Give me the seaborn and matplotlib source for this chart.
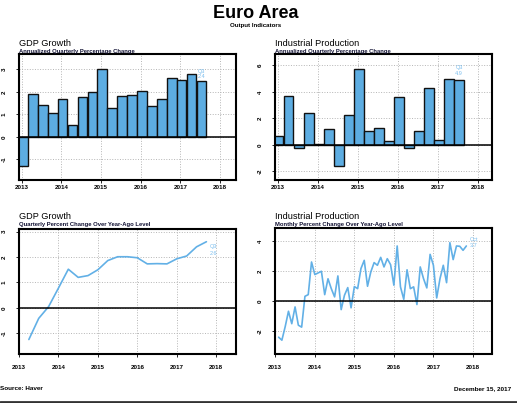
import numpy as np
import pandas as pd
import matplotlib
matplotlib.use('Agg')
import matplotlib.pyplot as plt
import seaborn as sns

# data
quarters = pd.period_range('2013Q1', '2017Q3', freq='Q')
months = pd.period_range('2013-01', '2017-10', freq='M')

gdp_ann = [-1.3, 1.9, 1.42, 1.06, 1.7, 0.52, 1.75, 2.0, 3.02, 1.29, 1.8, 1.86, 2.02,
           1.38, 1.7, 2.63, 2.51, 2.78, 2.46]
ip_ann = [0.68, 3.66, -0.25, 2.42, 0.03, 1.18, -1.56, 2.24, 5.75, 1.03, 1.31, 0.28,
          3.63, -0.23, 1.03, 4.26, 0.35, 4.99, 4.92]
gdp_yoy = [-1.24, -0.41, 0.05, 0.78, 1.52, 1.2, 1.27, 1.5, 1.86, 2.01, 2.01, 1.97,
           1.73, 1.74, 1.73, 1.93, 2.04, 2.4, 2.6]
ip_yoy = [-2.4, -2.6, -1.7, -0.67, -1.5, -0.38, -1.6, -1.73, 0.33, 0.44, 2.62, 1.78,
          1.89, 2.0, 0.44, 1.5, 0.84, 0.29, 1.69, -0.56, 0.4, 0.91, -0.44, 0.98,
          0.84, 2.18, 2.73, 1.0, 1.96, 2.58, 2.4, 2.93, 2.29, 2.84, 2.44, 1.07,
          3.69, 0.96, 0.13, 2.1, 0.84, 0.96, -0.22, 2.29, 1.51, 0.89, 3.13, 2.4,
          0.22, 1.51, 2.4, 1.24, 3.91, 2.78, 3.69, 3.67, 3.4, 3.69]
years = [2013, 2014, 2015, 2016, 2017, 2018]

bar_x = np.round(quarters.year + (quarters.quarter - 1) / 4 + 0.03, 3)
qline_x = quarters.year + quarters.quarter / 4
mline_x = months.year + months.month / 12

sns.set_style('white')
plt.rcParams['font.family'] = ['Liberation Sans', 'DejaVu Sans']
plt.rcParams['text.color'] = 'black'
plt.rcParams['xtick.color'] = 'black'
plt.rcParams['ytick.color'] = 'black'

BAR = '#5DADE2'
LINE = '#62B0E6'
LAB = '#7DBFEE'
W, H = 517, 403
fig = plt.figure(figsize=(W / 100, H / 100), dpi=100)


def make_ax(l, r, t, b):
    return fig.add_axes([l / W, 1 - b / H, (r - l) / W, (b - t) / H])


def style(ax, xlim, ylim, yticks, xpad):
    ax.set_xlim(*xlim)
    ax.set_ylim(*ylim)
    ax.set_xticks(years)
    ax.set_xticklabels([str(y) for y in years])
    ax.set_yticks(yticks)
    ax.set_yticklabels([str(v) for v in yticks])
    ax.set_xlabel('')
    ax.set_ylabel('')
    ax.grid(True, linestyle=':', color='#b5b5b5', linewidth=0.7)
    ax.set_axisbelow(True)
    ax.axhline(0, color='black', linewidth=1.1, zorder=3)
    for s in ax.spines.values():
        s.set_linewidth(1.5)
        s.set_color('black')
        s.set_visible(True)
    ax.tick_params(axis='x', length=2, width=0.6, pad=xpad, labelsize=4.5, bottom=True)
    ax.tick_params(axis='y', length=2, width=0.6, pad=7, labelsize=4.5,
                   labelrotation=90, left=True)
    for lab in ax.get_xticklabels() + ax.get_yticklabels():
        lab.set_fontweight('bold')
    for lab in ax.get_yticklabels():
        lab.set_va('center')


def note(ax, x, y, text, dx, dy, ha):
    ax.annotate(text, (x, y), xytext=(dx, dy), textcoords='offset points', rotation=0,
                ha=ha, va='center', fontsize=4, color=LAB, zorder=5)


def heading(x, y1, y2, title, sub):
    fig.text(x / W, 1 - y1 / H, title, fontsize=6.6, va='center', ha='left')
    fig.text(x / W, 1 - y2 / H, sub, fontsize=4.2, fontweight='bold', va='center',
             ha='left', color='#111133')


# top left: GDP annualized
ax1 = make_ax(19, 236, 54, 180)
sns.barplot(x=bar_x, y=gdp_ann, native_scale=True, width=0.97, color=BAR, saturation=1,
            edgecolor='#111111', linewidth=1.0, ax=ax1)
style(ax1, (2012.93, 2018.40), (-1.92, 3.68), [-1, 0, 1, 2, 3], 1.5)
note(ax1, bar_x[-1], gdp_ann[-1], 'Q3', 0, 7.5, 'center')
note(ax1, bar_x[-1], gdp_ann[-1], '2.4', 0, 3.5, 'center')
heading(19, 43, 51, 'GDP Growth', 'Annualized Quarterly Percentage Change')

# top right: industrial production annualized
ax2 = make_ax(275, 492, 54, 180)
sns.barplot(x=bar_x, y=ip_ann, native_scale=True, width=0.93, color=BAR, saturation=1,
            edgecolor='#111111', linewidth=1.0, ax=ax2)
style(ax2, (2012.935, 2018.35), (-2.65, 6.86), [-2, 0, 2, 4, 6], 1.5)
note(ax2, bar_x[-1], ip_ann[-1], 'Q3', 0, 9, 'center')
note(ax2, bar_x[-1], ip_ann[-1], '4.9', 0, 4.7, 'center')
heading(275, 43, 51, 'Industrial Production', 'Annualized Quarterly Percentage Change')

# bottom left: GDP year over year
ax3 = make_ax(19, 236, 229, 353.5)
sns.lineplot(x=qline_x, y=gdp_yoy, color=LINE, linewidth=1.2, ax=ax3)
style(ax3, (2013.0, 2018.5), (-1.79, 3.1), [-1, 0, 1, 2, 3], 6.5)
note(ax3, qline_x[-1], gdp_yoy[-1], 'Q3', 2.3, -3.6, 'left')
note(ax3, qline_x[-1], gdp_yoy[-1], '2.6', 2.3, -8.7, 'left')
heading(19, 216.7, 224.3, 'GDP Growth', 'Quarterly Percent Change Over Year-Ago Level')

# bottom right: industrial production year over year
ax4 = make_ax(275.3, 492.3, 228, 353.5)
sns.lineplot(x=mline_x, y=ip_yoy, color=LINE, linewidth=1.2, ax=ax4)
style(ax4, (2013.0, 2018.49), (-3.49, 4.89), [-2, 0, 2, 4], 6.5)
note(ax4, mline_x[-1], ip_yoy[-1], 'Oct', 2.3, 4.8, 'left')
note(ax4, mline_x[-1], ip_yoy[-1], '3.7', 2.3, 0.3, 'left')
heading(275, 216.7, 224.3, 'Industrial Production', 'Monthly Percent Change Over Year-Ago Level')

# page title and footer
fig.text(256 / W, 1 - 13.5 / H, 'Euro Area', fontsize=13, fontweight='bold', ha='center', va='center')
fig.text(256 / W, 1 - 26 / H, 'Output Indicators', fontsize=4.4, fontweight='bold',
         ha='center', va='center')
fig.text(0.5 / W, 1 - 389 / H, 'Source: Haver', fontsize=4.6, fontweight='bold', ha='left', va='center')
fig.text(511.5 / W, 1 - 389 / H, 'December 15, 2017', fontsize=4.6, fontweight='bold',
         ha='right', va='center')
fig.add_artist(plt.Line2D([0, 1], [1 - 401.5 / H, 1 - 401.5 / H], transform=fig.transFigure,
                          color='#333333', linewidth=2))

fig.savefig('out.png', dpi=100)
